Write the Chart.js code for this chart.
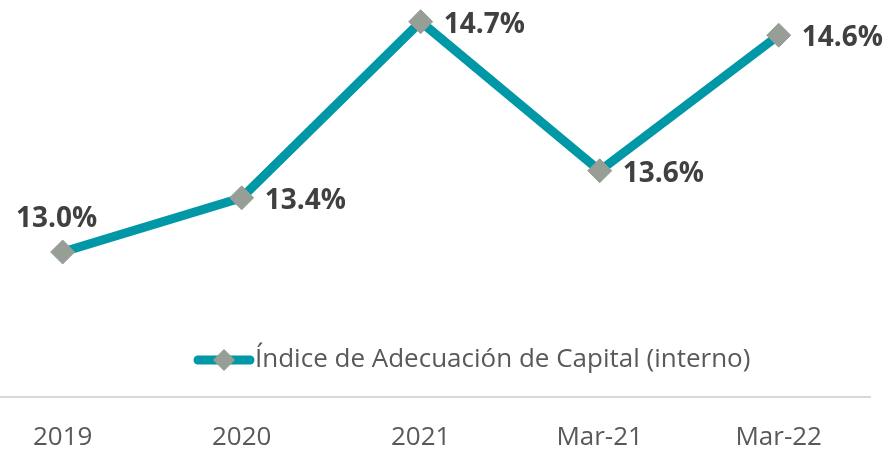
<!DOCTYPE html>
<html>
<head>
<meta charset="utf-8">
<script src="https://cdn.jsdelivr.net/npm/chart.js@4"></script>
<style>
  html, body { margin: 0; padding: 0; background: #fff; }
  #wrap { width: 889px; height: 451px; }
</style>
</head>
<body>
<div id="wrap"><canvas id="lineChart"></canvas></div>
<script>
const categories = ['2019', '2020', '2021', 'Mar-21', 'Mar-22'];
const ratioValues = [13.0, 13.4, 14.7, 13.6, 14.6];
const seriesName = 'Índice de Adecuación de Capital (interno)';

const lineColor = '#0097a7';
const markerColor = '#969e96';
const textFont = '"Open Sans", sans-serif';

// Draw the value labels next to each point
const valueLabels = {
    id: 'valueLabels',
    afterDatasetsDraw(chart) {
        const ctx = chart.ctx;
        const meta = chart.getDatasetMeta(0);
        ctx.save();
        ctx.font = 'bold 28px ' + textFont;
        ctx.fillStyle = '#404040';
        ctx.textBaseline = 'middle';
        meta.data.forEach((pt, i) => {
            const txt = ratioValues[i].toFixed(1) + '%';
            if (i === 0) {
                ctx.textAlign = 'center';
                ctx.fillText(txt, pt.x - 6, pt.y - 33);
            } else {
                ctx.textAlign = 'left';
                ctx.fillText(txt, pt.x + 23, pt.y + 3);
            }
        });
        ctx.restore();
    }
};

// Legend drawn inside the plot area, like the original
const innerLegend = {
    id: 'innerLegend',
    afterDraw(chart) {
        const ctx = chart.ctx;
        const y = 360;
        ctx.save();
        ctx.strokeStyle = lineColor;
        ctx.lineWidth = 9;
        ctx.lineCap = 'round';
        ctx.beginPath();
        ctx.moveTo(198, y);
        ctx.lineTo(250, y);
        ctx.stroke();
        ctx.fillStyle = markerColor;
        ctx.beginPath();
        ctx.moveTo(224, y - 11);
        ctx.lineTo(235, y);
        ctx.lineTo(224, y + 11);
        ctx.lineTo(213, y);
        ctx.closePath();
        ctx.fill();
        ctx.font = '26px ' + textFont;
        ctx.fillStyle = '#595959';
        ctx.textBaseline = 'middle';
        ctx.textAlign = 'left';
        ctx.fillText(seriesName, 255, y);
        ctx.restore();
    }
};

const ctx = document.getElementById('lineChart').getContext('2d');
const lineChart = new Chart(ctx, {
    type: 'line',
    data: {
        datasets: [{
            label: seriesName,
            data: ratioValues.map((v, i) => ({ x: i, y: v })),
            borderColor: lineColor,
            borderWidth: 9,
            tension: 0,
            pointStyle: 'rectRot',
            pointRadius: 12,
            pointBackgroundColor: markerColor,
            pointBorderColor: markerColor,
            pointBorderWidth: 1,
            clip: false
        }]
    },
    options: {
        responsive: true,
        maintainAspectRatio: false,
        animation: false,
        layout: { autoPadding: false, padding: { top: 0, right: 19, bottom: 0, left: 0 } },
        plugins: {
            legend: { display: false },
            tooltip: { enabled: false }
        },
        scales: {
            x: {
                type: 'linear',
                min: -0.35,
                max: 4.51,
                afterBuildTicks: scale => {
                    scale.ticks = categories.map((_, i) => ({ value: i }));
                },
                afterFit: scale => {
                    scale.height = 54;
                    scale.paddingLeft = 0;
                    scale.paddingRight = 0;
                },
                ticks: {
                    callback: v => categories[v],
                    color: '#595959',
                    font: { family: textFont, size: 26 },
                    padding: 25,
                    maxRotation: 0,
                    autoSkip: false
                },
                grid: { display: false, drawTicks: false },
                border: { display: true, color: '#d9d9d9', width: 2 }
            },
            y: {
                display: false,
                min: 11.93,
                max: 14.86
            }
        }
    },
    plugins: [valueLabels, innerLegend]
});
</script>
</body>
</html>
